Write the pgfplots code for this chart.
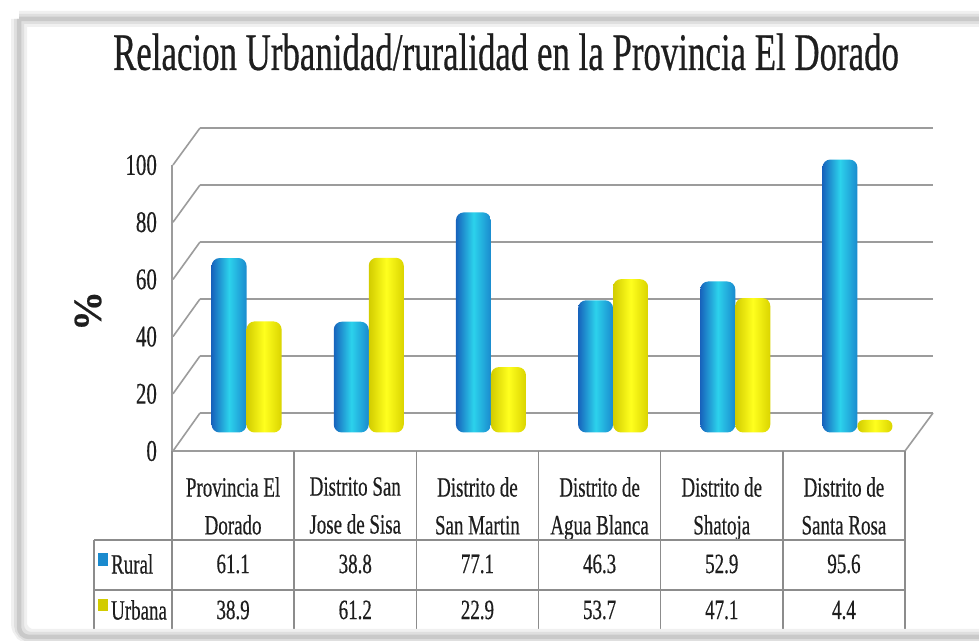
\documentclass[border=0pt]{standalone}
\usepackage{pgfplots}
\pgfplotsset{compat=1.18}
\usepackage{fontspec}
\setmainfont{Liberation Serif}[FakeBold=0.5]
\definecolor{gridgray}{HTML}{9C9C9C}
\definecolor{tabgray}{HTML}{8C8C8C}
\definecolor{ruralL}{HTML}{1763BC}
\definecolor{ruralM}{HTML}{2CD2EC}
\definecolor{ruralR}{HTML}{1A8ACE}
\definecolor{urbL}{HTML}{D2CC00}
\definecolor{urbM}{HTML}{FFFF1E}
\definecolor{urbR}{HTML}{DAD400}
\definecolor{txt}{HTML}{1E1E1E}

\pgfplotsset{
  rbar/.style={draw=none, left color=ruralL, right color=ruralR, middle color=ruralM, rounded corners=8bp, bar shift=-17.5bp},
  ubar/.style={draw=none, left color=urbL, right color=urbR, middle color=urbM, rounded corners=8bp, bar shift=17.5bp},
}

\begin{document}
\begin{tikzpicture}[x=1bp,y=1bp]
\path[use as bounding box, fill=white] (0,0) rectangle (979,641);
% title
\node[text=txt, font=\fontsize{53}{60}\selectfont, xscale=0.66, anchor=base, inner sep=0pt] at (506,571) {Relacion Urbanidad/ruralidad en la Provincia El Dorado};

% back wall
\begin{axis}[at={(200bp,228bp)}, anchor=south west, scale only axis,
  width=733bp, height=285bp, xmin=-0.5, xmax=5.5, ymin=0, ymax=100,
  ytick={0,20,...,100}, xtick=\empty, yticklabels={}, major tick length=0pt,
  axis line style={draw=none}, ymajorgrids, grid style={gridgray, line width=2.4bp}]
\end{axis}

% side wall and floor edges
\foreach \k in {0,...,5} {\draw[gridgray, line width=1.6bp] (173,{190+57.2*\k}) -- (200,{228+57*\k});}
\draw[gridgray, line width=1.6bp] (905,190) -- (933,228);

% bars (mid depth)
\begin{axis}[at={(185.5bp,208.5bp)}, anchor=south west, scale only axis,
  width=733bp, height=285.5bp, xmin=-0.5, xmax=5.5, ymin=0, ymax=100,
  hide axis, ybar=0pt, bar width=35bp, clip=false]
% Rural
\addplot[rbar] coordinates {(0,61.1)};
\addplot[rbar] coordinates {(1,38.8)};
\addplot[rbar] coordinates {(2,77.1)};
\addplot[rbar] coordinates {(3,46.3)};
\addplot[rbar] coordinates {(4,52.9)};
\addplot[rbar] coordinates {(5,95.6)};
% Urbana
\addplot[ubar] coordinates {(0,38.9)};
\addplot[ubar] coordinates {(1,61.2)};
\addplot[ubar] coordinates {(2,22.9)};
\addplot[ubar] coordinates {(3,53.7)};
\addplot[ubar] coordinates {(4,47.1)};
\addplot[ubar, rounded corners=6bp] coordinates {(5,4.4)};
\end{axis}

% front axis with labels
\begin{axis}[at={(172bp,190bp)}, anchor=south west, scale only axis,
  width=733bp, height=286bp, xmin=-0.5, xmax=5.5, ymin=0, ymax=100,
  axis x line*=bottom, axis y line*=left,
  axis line style={gridgray, line width=1.6bp},
  ytick={0,20,...,100}, xtick={0,...,5}, major tick length=0pt,
  /pgf/number format/assume math mode=true,
  xticklabels={{Provincia El\\Dorado},{Distrito San\\Jose de Sisa},{Distrito de\\San Martin},{Distrito de\\Agua Blanca},{Distrito de\\Shatoja},{Distrito de\\Santa Rosa}},
  xticklabel style={text=txt, anchor=north, inner sep=0pt, yshift=-26bp, align=center, font=\fontsize{28}{38}\selectfont, xscale=0.68},
  yticklabel style={text=txt, anchor=east, inner sep=0pt, xshift=-15bp, font=\fontsize{30}{30}\selectfont, xscale=0.7},
  clip=false]
\end{axis}

% y label
\node[text=txt, rotate=90, font=\fontsize{40}{40}\selectfont\bfseries] at (88,330) {\%};

% data table
\foreach \v [count=\i from 0] in {61.1,38.8,77.1,46.3,52.9,95.6}
  {\node[text=txt, font=\fontsize{28}{30}\selectfont, xscale=0.68] at ({233.1+122.17*\i},77) {\v};}
\foreach \v [count=\i from 0] in {38.9,61.2,22.9,53.7,47.1,4.4}
  {\node[text=txt, font=\fontsize{28}{30}\selectfont, xscale=0.68] at ({233.1+122.17*\i},31) {\v};}
\node[text=txt, font=\fontsize{28}{30}\selectfont, xscale=0.68, anchor=west, inner sep=0pt] at (111,77) {Rural};
\node[text=txt, font=\fontsize{28}{30}\selectfont, xscale=0.68, anchor=west, inner sep=0pt] at (111,31) {Urbana};
\fill[ruralR] (98,75) rectangle (108,88);
\fill[urbL] (98,30) rectangle (108,42);
\draw[tabgray, line width=1.5bp] (94,101) -- (905,101) (94,51) -- (905,51) (94,5) -- (905,5) (94,101) -- (94,5);
\foreach \i in {0,...,6} {\draw[tabgray, line width=1.5bp] ({172+122.17*\i},190) -- ({172+122.17*\i},5);}

% frame shadow
\draw[line width=16bp, gray!12, rounded corners=14bp] (19,622) -- (1010,622) (19,622) -- (19,4) -- (1010,4);
\draw[line width=10bp, gray!25, rounded corners=12bp] (19,622) -- (1010,622) (19,622) -- (19,4) -- (1010,4);
\draw[line width=4.5bp, gray!42, rounded corners=10bp] (19,622) -- (1010,622) (19,622) -- (19,4) -- (1010,4);
\end{tikzpicture}
\end{document}
